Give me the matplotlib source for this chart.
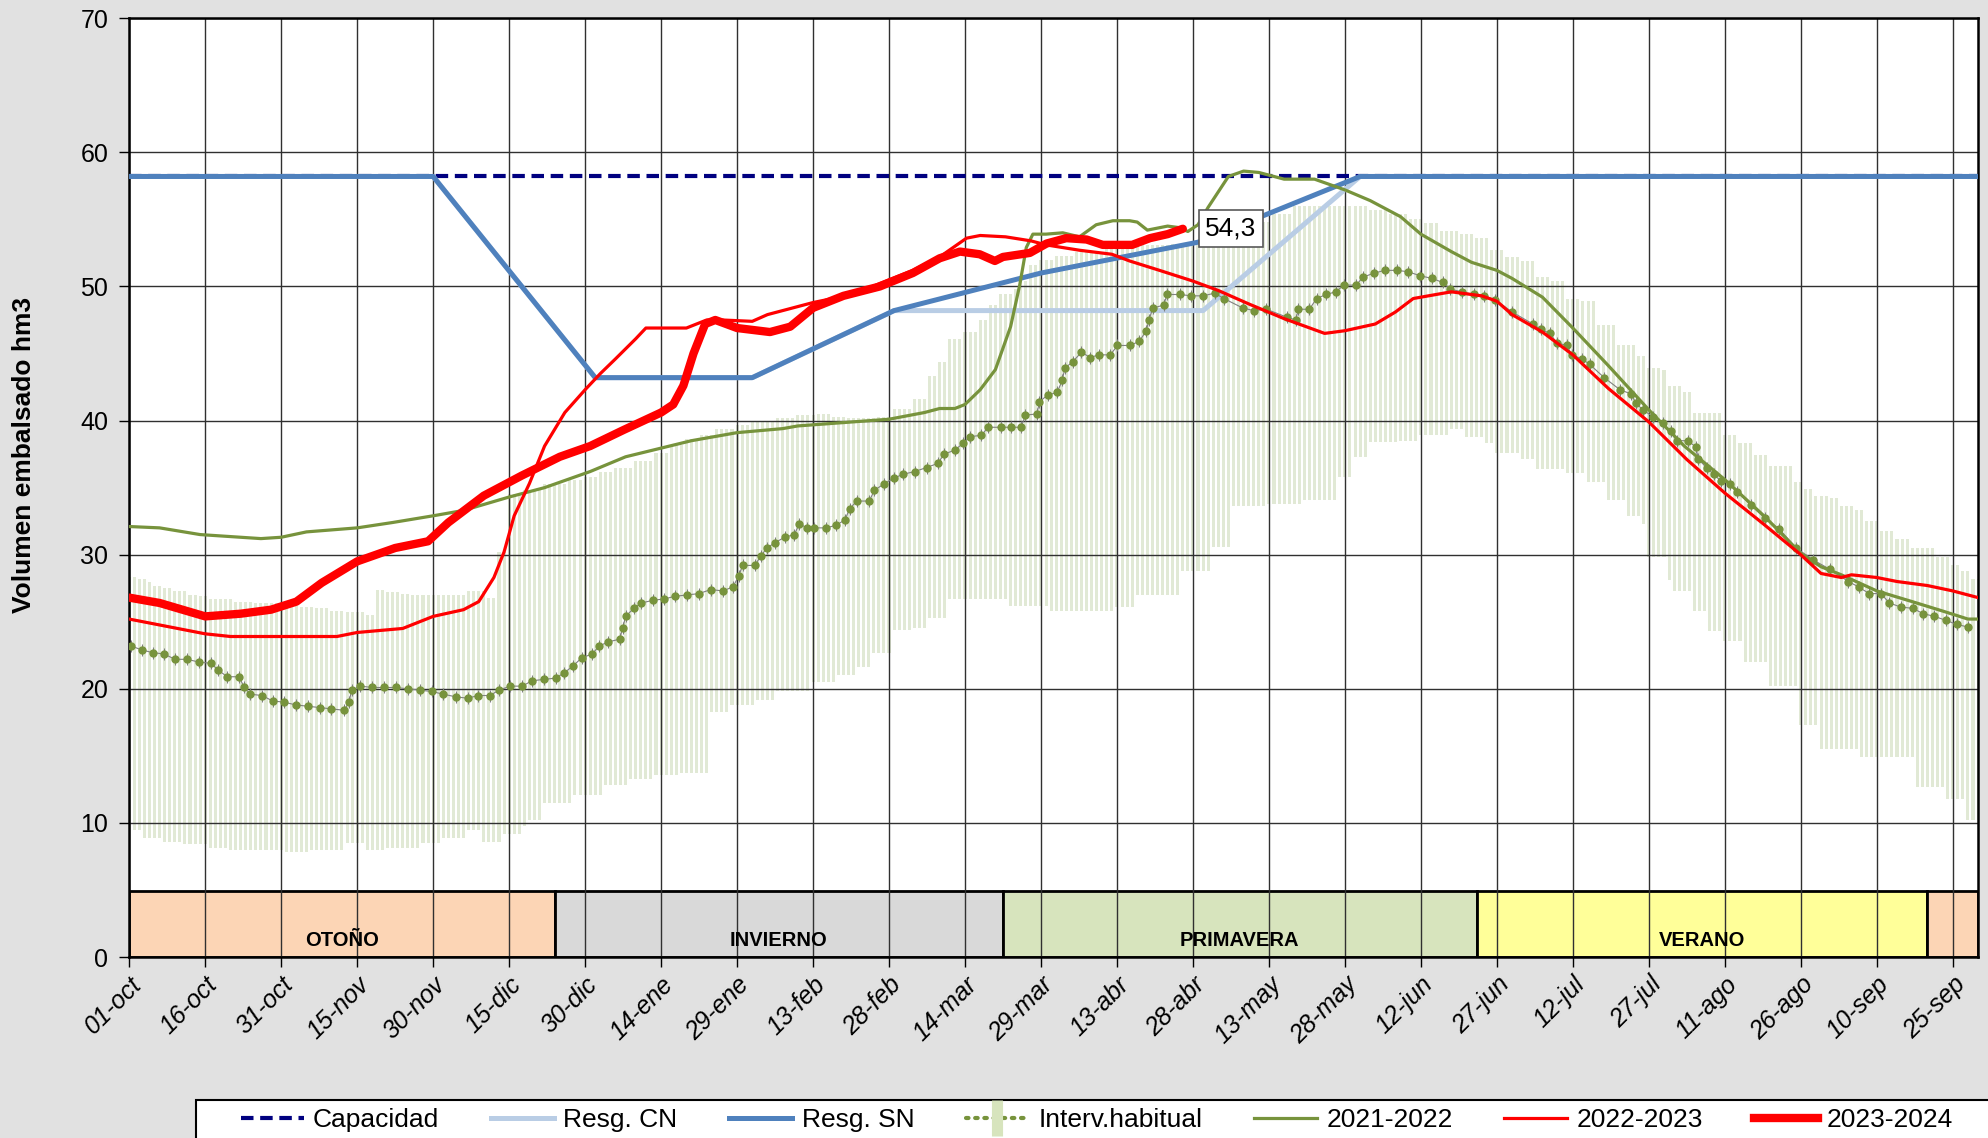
import numpy as np
import matplotlib
matplotlib.use("Agg")
import matplotlib.pyplot as plt
from matplotlib.patches import Rectangle
from matplotlib.lines import Line2D
from matplotlib.legend_handler import HandlerTuple

plt.rcParams['font.family'] = ['Liberation Sans', 'DejaVu Sans']

# x axis: day of the hydrological year (0 = 01-oct)
tick_days = list(range(0, 361, 15))
tick_labels = ["01-oct", "16-oct", "31-oct", "15-nov", "30-nov", "15-dic", "30-dic",
               "14-ene", "29-ene", "13-feb", "28-feb", "14-mar", "29-mar", "13-abr",
               "28-abr", "13-may", "28-may", "12-jun", "27-jun", "12-jul", "27-jul",
               "11-ago", "26-ago", "10-sep", "25-sep"]

seasons = ["OTOÑO", "INVIERNO", "PRIMAVERA", "VERANO", ""]
season_start = [0, 84, 172.5, 266, 355]
season_end = [84, 172.5, 266, 355, 365]
season_colors = ["#FCD5B5", "#D9D9D9", "#D7E4BD", "#FFFF99", "#FCD5B5"]

capacidad = 58.2
cap_day = [0, 365]

resg_sn_day = [0, 60, 92, 123, 151, 180, 211, 243, 365]
resg_sn_val = [58.2, 58.2, 43.2, 43.2, 48.2, 51.0, 53.3, 58.2, 58.2]
resg_cn_day = [0, 60, 92, 123, 151, 212, 243, 365]
resg_cn_val = [58.2, 58.2, 43.2, 43.2, 48.2, 48.2, 58.2, 58.2]

# habitual interval: runs (first day of run, value)
hab_hi_start = [0, 2, 4, 5, 7, 9, 12, 14, 16, 21, 25, 30, 34, 37, 40, 43, 47, 49, 51, 54,
                56, 67, 71, 73, 75, 78, 82, 87, 90, 93, 96, 100, 104, 107, 110, 113, 116,
                120, 123, 128, 132, 136, 139, 142, 148, 151, 155, 158, 160, 162, 165, 168,
                170, 172, 175, 176, 178, 180, 183, 187, 193, 199, 206, 212, 218, 222, 226,
                230, 245, 249, 253, 256, 259, 263, 266, 269, 272, 275, 278, 281, 284, 287,
                290, 294, 298, 300, 303, 304, 307, 309, 315, 318, 321, 324, 329, 331, 333,
                336, 338, 341, 343, 346, 349, 352, 357, 360, 362, 364]
hab_hi_val = [28.3, 28.2, 28.0, 27.7, 27.5, 27.3, 27.0, 26.9, 26.7, 26.5, 26.4, 26.2, 26.1,
              26.0, 25.8, 25.7, 25.5, 27.4, 27.2, 27.1, 27.0, 27.3, 26.8, 30.2, 34.5, 34.8,
              35.3, 35.6, 35.8, 36.2, 36.5, 37.0, 37.6, 38.2, 38.6, 38.9, 39.4, 39.7, 40.0,
              40.2, 40.4, 40.5, 40.3, 40.2, 40.3, 40.9, 41.6, 43.3, 44.4, 46.1, 46.6, 47.5,
              48.6, 49.4, 49.8, 50.4, 51.6, 52.0, 52.3, 52.6, 52.9, 53.1, 53.2, 53.6, 54.2,
              54.8, 55.4, 56.0, 55.7, 55.4, 55.0, 54.7, 54.1, 53.9, 53.6, 52.7, 52.2, 51.9,
              50.7, 50.4, 49.1, 48.9, 47.1, 45.6, 44.8, 43.9, 43.8, 42.6, 42.1, 40.6, 38.9,
              38.3, 37.4, 36.6, 35.4, 34.9, 34.4, 34.2, 33.6, 33.3, 32.5, 31.8, 31.2, 30.5,
              29.8, 29.2, 28.8, 28.2]
hab_lo_start = [0, 3, 7, 11, 16, 20, 31, 36, 43, 47, 51, 58, 62, 67, 70, 74, 78, 79, 82, 88,
                94, 99, 104, 109, 115, 119, 124, 128, 135, 140, 144, 147, 151, 155, 158, 162,
                174, 182, 195, 199, 208, 214, 218, 225, 232, 239, 242, 245, 251, 255, 261,
                264, 268, 270, 275, 278, 284, 288, 292, 296, 299, 300, 304, 305, 309, 312,
                315, 319, 324, 330, 334, 342, 353, 359, 363]
hab_lo_val = [9.5, 8.9, 8.6, 8.4, 8.1, 8.0, 7.8, 8.0, 8.5, 8.0, 8.1, 8.5, 8.9, 9.5, 8.6, 9.2,
              9.8, 10.2, 11.5, 12.1, 12.8, 13.3, 13.6, 13.7, 18.3, 18.8, 19.2, 19.8, 20.5,
              21.0, 21.6, 22.7, 24.4, 24.5, 25.3, 26.7, 26.2, 25.8, 26.1, 27.0, 28.8, 30.6,
              33.6, 33.8, 34.1, 35.8, 37.3, 38.4, 38.5, 38.9, 39.4, 38.8, 38.3, 37.6, 37.1,
              36.4, 36.1, 35.4, 34.1, 32.9, 32.3, 29.8, 28.1, 27.3, 25.8, 24.3, 23.6, 22.0,
              20.2, 17.3, 15.5, 14.9, 12.7, 11.8, 10.2]

med_day = [0.3, 2.5, 4.6, 6.8, 9.1, 11.4, 13.7, 16.1, 17.6, 19.3, 21.7, 22.7, 23.9, 26.2,
           28.3, 30.6, 32.9, 35.3, 37.6, 39.9, 42.4, 43.4, 43.9, 45.6, 48.0, 50.3, 52.6,
           55.1, 57.4, 59.7, 62.0, 64.5, 66.8, 68.9, 71.2, 73.0, 75.2, 77.6, 79.5, 81.8,
           84.2, 85.9, 87.6, 89.3, 91.4, 92.8, 94.6, 96.8, 97.4, 98.0, 99.6, 101.1, 103.4,
           105.6, 107.8, 110.2, 112.5, 114.8, 117.2, 119.2, 120.3, 121.1, 123.5, 124.7,
           125.9, 127.5, 129.4, 131.3, 132.3, 133.8, 135.2, 137.6, 139.6, 141.3, 142.2,
           143.6, 146.1, 147.1, 149.1, 150.9, 152.8, 155.1, 157.4, 159.6, 160.9, 163.0,
           164.6, 166.0, 168.2, 169.6, 172.1, 174.0, 176.1, 176.9, 179.2, 179.7, 181.3,
           183.2, 184.2, 184.7, 186.3, 188.0, 189.7, 191.4, 193.7, 195.1, 197.5, 199.4,
           200.8, 201.3, 202.1, 204.2, 204.9, 207.4, 209.7, 212.0, 214.3, 216.1, 219.8,
           222.0, 224.5, 228.6, 230.3, 230.8, 233.0, 234.4, 236.3, 238.2, 239.8, 242.2,
           243.6, 245.8, 247.9, 250.2, 252.5, 254.8, 257.2, 259.3, 260.8, 263.1, 265.4,
           267.4, 269.7, 273.0, 277.1, 278.7, 280.5, 281.8, 283.8, 284.8, 286.8, 288.3,
           291.2, 294.3, 296.4, 297.5, 298.8, 300.8, 302.8, 304.3, 305.5, 307.8, 309.3,
           309.8, 311.4, 312.8, 314.2, 316.1, 317.5, 320.1, 323.0, 325.8, 329.1, 332.5,
           335.8, 339.4, 341.4, 343.5, 345.8, 347.5, 349.7, 352.1, 354.2, 356.4, 358.7,
           360.8, 363.1]
med_val = [23.2, 22.9, 22.7, 22.6, 22.2, 22.2, 22.0, 21.9, 21.4, 20.9, 20.9, 20.1, 19.6, 19.5,
           19.1, 19.0, 18.8, 18.7, 18.6, 18.5, 18.4, 19.0, 19.9, 20.2, 20.1, 20.1, 20.1, 20.0,
           19.9, 19.8, 19.6, 19.4, 19.3, 19.5, 19.5, 19.9, 20.2, 20.2, 20.6, 20.7, 20.8, 21.2,
           21.7, 22.3, 22.6, 23.2, 23.5, 23.7, 24.5, 25.4, 26.0, 26.4, 26.6, 26.7, 26.9, 27.0,
           27.1, 27.4, 27.3, 27.6, 28.4, 29.2, 29.2, 29.9, 30.5, 30.9, 31.3, 31.5, 32.3, 32.0,
           32.0, 32.0, 32.2, 32.6, 33.4, 34.0, 34.0, 34.8, 35.3, 35.7, 36.0, 36.2, 36.5, 36.8,
           37.5, 37.8, 38.3, 38.8, 38.9, 39.5, 39.5, 39.5, 39.5, 40.4, 40.5, 41.4, 41.9, 42.1,
           43.0, 43.9, 44.4, 45.1, 44.7, 44.9, 44.9, 45.6, 45.6, 45.9, 46.7, 47.5, 48.4, 48.6,
           49.4, 49.4, 49.3, 49.3, 49.5, 49.1, 48.4, 48.2, 48.3, 47.7, 47.5, 48.3, 48.3, 49.1,
           49.4, 49.6, 50.1, 50.1, 50.7, 51.0, 51.2, 51.2, 51.1, 50.8, 50.6, 50.3, 49.8, 49.6,
           49.4, 49.3, 49.0, 48.1, 47.2, 46.8, 46.5, 45.8, 45.6, 44.9, 44.6, 44.2, 43.2, 42.3,
           42.0, 41.3, 40.8, 40.3, 39.8, 39.2, 38.5, 38.5, 38.0, 37.1, 36.5, 36.0, 35.5, 35.3,
           34.7, 33.7, 32.7, 31.9, 30.5, 29.6, 28.9, 28.0, 27.6, 27.1, 27.1, 26.4, 26.1, 26.0,
           25.6, 25.4, 25.1, 24.8, 24.6]

y2122_day = [0, 6, 14, 26, 30, 35, 45, 52, 60, 66, 75, 82, 91, 98, 111, 120, 129, 132, 150,
             157, 160, 163, 165, 168, 171, 174, 175.8, 177.1, 178.4, 181, 184.3, 187.6, 190.9,
             194.2, 197.5, 199, 201, 205, 207, 209, 211, 213, 217, 220, 223, 228, 234, 240,
             245, 251, 255, 261, 265, 270, 273, 279, 285, 292, 300, 307, 315, 323, 330, 334,
             338, 345, 352, 358, 363, 365]
y2122_val = [32.1, 32.0, 31.5, 31.2, 31.3, 31.7, 32.0, 32.4, 32.9, 33.3, 34.3, 35.0, 36.2,
             37.3, 38.5, 39.1, 39.4, 39.6, 40.1, 40.6, 40.9, 40.9, 41.2, 42.3, 43.8, 47.0,
             50.1, 52.9, 53.9, 53.9, 54.0, 53.7, 54.6, 54.9, 54.9, 54.8, 54.2, 54.5, 54.4,
             54.1, 54.6, 55.9, 58.2, 58.6, 58.5, 58.0, 58.0, 57.2, 56.4, 55.2, 53.9, 52.6,
             51.8, 51.2, 50.6, 49.2, 46.9, 44.1, 40.8, 38.1, 35.6, 32.8, 30.1, 29.1, 28.5,
             27.3, 26.5, 25.8, 25.2, 25.2]

y2223_day = [0, 15, 20, 30, 41, 45, 54, 60, 66, 69, 72, 74, 76, 79, 82, 86, 90, 93, 96, 100,
             102, 110, 114, 117, 123, 126, 135, 144, 148, 154.7, 160, 165.3, 168, 173, 178,
             181, 187.6, 194, 197.5, 203.4, 210, 215, 221, 228, 236, 240, 246, 250, 253.5,
             261, 267, 270, 273, 279, 285, 292, 300, 307.5, 315, 322.6, 330, 334, 338, 340,
             345, 349, 355, 360, 365]
y2223_val = [25.2, 24.1, 23.9, 23.9, 23.9, 24.2, 24.5, 25.4, 25.9, 26.5, 28.3, 30.2, 32.9,
             35.3, 38.1, 40.6, 42.3, 43.5, 44.6, 46.1, 46.9, 46.9, 47.5, 47.5, 47.4, 47.9,
             48.8, 49.5, 50.2, 51.2, 52.2, 53.6, 53.8, 53.7, 53.4, 53.1, 52.7, 52.4, 51.9,
             51.2, 50.4, 49.7, 48.7, 47.6, 46.5, 46.7, 47.2, 48.1, 49.1, 49.6, 49.3, 48.9,
             47.9, 46.6, 44.9, 42.4, 39.9, 37.1, 34.6, 32.3, 30.0, 28.6, 28.3, 28.5, 28.3,
             28.0, 27.7, 27.3, 26.8]

y2324_day = [0, 6, 15, 22, 28, 33, 38, 45, 52.5, 59, 63, 70, 77.5, 85, 91, 97.6, 105, 107.4,
             109.4, 111.4, 113.7, 115.7, 120, 126.5, 130.5, 135, 141, 148.2, 154.7, 160, 164,
             167.9, 170.9, 172.5, 177.8, 181.1, 185, 189, 192.2, 198, 201.5, 205, 208]
y2324_val = [26.8, 26.4, 25.4, 25.6, 25.9, 26.5, 27.9, 29.5, 30.5, 31.0, 32.4, 34.4, 35.9,
             37.3, 38.1, 39.3, 40.6, 41.2, 42.6, 45.0, 47.2, 47.5, 46.9, 46.6, 47.0, 48.4,
             49.3, 50.0, 51.0, 52.1, 52.6, 52.4, 51.9, 52.2, 52.5, 53.2, 53.6, 53.5, 53.1,
             53.1, 53.6, 53.9, 54.3]
last_label = "54,3"

fig = plt.figure(figsize=(19.88, 11.38), dpi=100, facecolor="#E1E1E1")
ax = fig.add_axes([0.065, 0.159, 0.93, 0.825])
ax.set_xlim(0, 365)
ax.set_ylim(0, 70)

# season band
for name, s, e, c in zip(seasons, season_start, season_end, season_colors):
  ax.add_patch(Rectangle((s, 0), e - s, 4.9, facecolor=c, edgecolor="black", lw=2, zorder=1))
  if name:
    ax.text((s + e) / 2, 1.2, name, ha="center", va="center", fontsize=14.5,
            fontweight="bold", zorder=3)

# habitual interval bars
days = np.arange(366)
hi = np.array(hab_hi_val)[np.searchsorted(hab_hi_start, days, side="right") - 1]
lo = np.array(hab_lo_val)[np.searchsorted(hab_lo_start, days, side="right") - 1]
ax.bar(days, hi - lo, bottom=lo, width=0.6, color="#E1E9D5", zorder=1)

ax.plot(cap_day, [capacidad, capacidad], color="#000080", lw=3, ls=(0, (3, 1.6)), zorder=3)
ax.plot(resg_cn_day, resg_cn_val, color="#B9CDE5", lw=3.6, zorder=3)
ax.plot(resg_sn_day, resg_sn_val, color="#4F81BD", lw=3.6, zorder=3)

ax.plot(med_day, med_val, color="#808080", lw=0.8, marker="|", ms=8, mew=0.8, zorder=3)
ax.plot(med_day, med_val, "o", color="#77933C", ms=5, zorder=3)

ax.plot(y2122_day, y2122_val, color="#77933C", lw=2.3, zorder=4)
ax.plot(y2223_day, y2223_val, color="#FF0000", lw=2.3, zorder=4)
ax.plot(y2324_day, y2324_val, color="#FF0000", lw=6, solid_capstyle="round", zorder=5)

ax.text(y2324_day[-1] + 9.5, y2324_val[-1], last_label, ha="center", va="center", fontsize=19,
        zorder=6, bbox=dict(boxstyle="square,pad=0.25", fc="white", ec="#595959", lw=1.2))

ax.set_xticks(tick_days)
ax.set_xticklabels(tick_labels, rotation=45, ha="right", rotation_mode="anchor",
                   fontstyle="italic", fontsize=18)
ax.set_yticks(range(0, 71, 10))
ax.tick_params(axis="y", labelsize=18, length=7, width=1, pad=8)
ax.tick_params(axis="x", length=7, width=1, pad=4)
ax.grid(True, color="#303030", lw=1)
for sp in ax.spines.values():
  sp.set_linewidth(1.8)

fig.text(0.012, 0.60, "Volumen embalsado hm3", rotation=90, ha="center", va="center",
         fontsize=19, fontweight="bold")

# legend
fig.patches.append(Rectangle((0.0986, -0.05), 1.0, 0.0834, transform=fig.transFigure,
                             facecolor="white", edgecolor="black", lw=1.5))
handles = [
  Line2D([], [], color="#000080", lw=3, ls=(0, (3, 1.6))),
  Line2D([], [], color="#B9CDE5", lw=3.6),
  Line2D([], [], color="#4F81BD", lw=3.6),
  (Line2D([], [], color="#77933C", lw=3, ls=(0, (0.6, 1.6)), dash_capstyle="round"),
   Line2D([], [], color="#D7E4BD", marker="|", ms=26, mew=8, ls="none")),
  Line2D([], [], color="#77933C", lw=2.3),
  Line2D([], [], color="#FF0000", lw=2.3),
  Line2D([], [], color="#FF0000", lw=6),
]
labels = ["Capacidad", "Resg. CN", "Resg. SN", "Interv.habitual", "2021-2022", "2022-2023", "2023-2024"]
fig.legend(handles, labels, loc="center left", bbox_to_anchor=(0.121, 0.0158), ncol=7,
           frameon=False, fontsize=19, handlelength=2.4, handletextpad=0.35,
           columnspacing=1.95, borderpad=0, borderaxespad=0, numpoints=1,
           handler_map={tuple: HandlerTuple(ndivide=1, pad=0)})

fig.savefig("out.png", dpi=100, facecolor=fig.get_facecolor())
